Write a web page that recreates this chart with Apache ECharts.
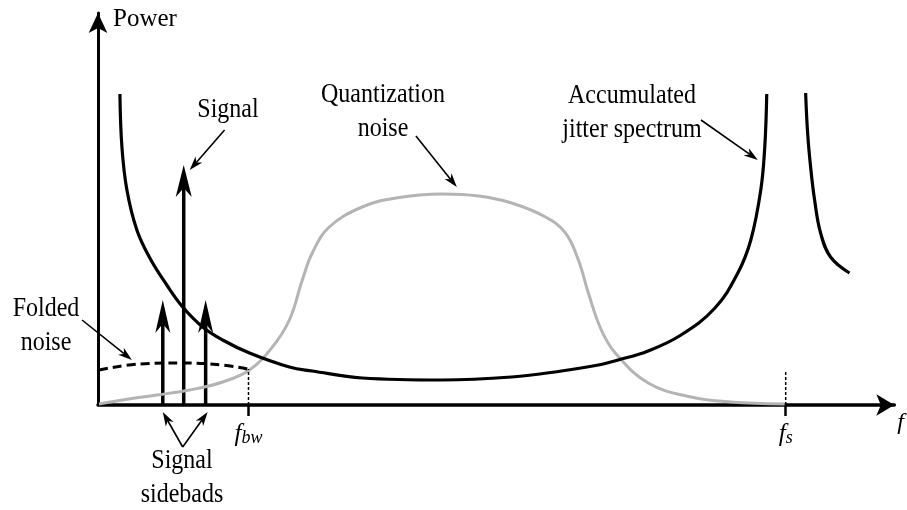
<!DOCTYPE html>
<html>
<head>
<meta charset="utf-8">
<script src="https://cdn.jsdelivr.net/npm/echarts@6/dist/echarts.min.js"></script>
<style>
  html, body { margin: 0; padding: 0; background: #fff; }
  #main { width: 907px; height: 510px; }
</style>
</head>
<body>
<div id="main"></div>
<script>
// frequency axis positions of the two marked frequencies
var fbwPos = 151;
var fsPos = 690;

// accumulated jitter spectrum (main bowl) and the tail after fs
var jitterMain = [[22,311],[24,258],[29,215],[39,175],[52,147],[69,120],[85,98],[105,78],[125,65],
  [152,52],[192,38],[215,34],[265,27],[345,25],[415,28],[465,34],[502,40],[522,45],[552,54],
  [585,70],[619,97],[642,132],[655,165],[665,215],[669,258],[671,311]];
var jitterTail = [[710,312],[712,272],[715,238],[719,205],[725,172],[735,148],[754,132]];

// quantization noise (grey)
var quantNoise = [[1,1],[25,5],[59,10],[92,15],[125,23],[152,35],[175,58],[192,85],[205,125],
  [215,152],[232,178],[265,198],[299,207],[345,211],[382,209],[415,202],[449,188],[469,172],
  [482,145],[492,112],[505,75],[519,52],[552,22],[595,8],[635,3],[689,1]];

// folded noise (dashed, inside the signal band)
var foldedNoise = [[1,35],[42,41],[85,42],[125,40],[150,36]];

// signal tone and its two sidebands: [frequency, power]
var signalArrows = [[86,240]];
var sidebandArrows = [[65,105],[108,105]];

// guide heights above the axis at fbw and fs
var fbwGuide = [[fbwPos,0],[fbwPos,36]];
var fsGuide = [[fsPos,0],[fsPos,35]];

// annotation pointers: [x1, y1, x2, y2]
var pointers = [[127,275,92,235],[319,269,360,218],[605,285,662,245],[-16,85,34,45],[85,-42,65,-7],[85,-42,110,-7]];

var serif = '"Liberation Serif", "DejaVu Serif", serif';

var myChart = echarts.init(document.getElementById('main'));

function arrowShape(api, p1, p2, headLen, headW, lineW) {
  var a = api.coord(p1), b = api.coord(p2);
  var dx = b[0] - a[0], dy = b[1] - a[1];
  var len = Math.sqrt(dx * dx + dy * dy);
  var ux = dx / len, uy = dy / len, nx = -uy, ny = ux;
  var bx = b[0] - ux * headLen, by = b[1] - uy * headLen;
  var cx = b[0] - ux * headLen * 0.72, cy = b[1] - uy * headLen * 0.72;
  return {
    type: 'group',
    children: [
      { type: 'line', shape: { x1: a[0], y1: a[1], x2: cx, y2: cy },
        style: { stroke: '#000', lineWidth: lineW } },
      { type: 'polygon',
        shape: { points: [[b[0], b[1]], [bx + nx * headW / 2, by + ny * headW / 2], [cx, cy], [bx - nx * headW / 2, by - ny * headW / 2]] },
        style: { fill: '#000' } }
    ]
  };
}

// annotation text, slightly stretched vertically like the original lettering
function note(x, y, text) {
  return { type: 'text', x: x, y: y, scaleY: 1.1,
    style: { text: text, font: '24px ' + serif, lineHeight: 31, fill: '#000', align: 'center', verticalAlign: 'middle' } };
}

var option = {
  animation: false,
  grid: { left: 98, top: 13, right: 10, bottom: 105 },
  xAxis: {
    type: 'value', min: 0, max: 799,
    name: 'f', nameLocation: 'end', nameGap: 3,
    nameTextStyle: { fontFamily: serif, fontStyle: 'italic', fontSize: 24, color: '#000',
      align: 'left', verticalAlign: 'top', padding: [6, 0, 0, 0] },
    axisLine: { show: true, symbol: ['none', 'arrow'], symbolSize: [16, 18],
      lineStyle: { color: '#000', width: 3.5 } },
    axisTick: { show: true, customValues: [fbwPos, fsPos], length: 11, lineStyle: { color: '#000', width: 2.5 } },
    axisLabel: {
      show: true, customValues: [fbwPos, fsPos], margin: 17,
      formatter: function (v) { return v === fbwPos ? '{f|f}{s|bw}' : '{f|f}{s|s}'; },
      rich: {
        f: { fontFamily: serif, fontStyle: 'italic', fontSize: 25, color: '#000', verticalAlign: 'top', lineHeight: 25 },
        s: { fontFamily: serif, fontStyle: 'italic', fontSize: 18, color: '#000', verticalAlign: 'bottom', lineHeight: 18, padding: [8, 0, 0, 0] }
      }
    },
    splitLine: { show: false }
  },
  yAxis: {
    type: 'value', min: 0, max: 392,
    name: 'Power', nameLocation: 'end', nameGap: -6,
    nameTextStyle: { fontFamily: serif, fontSize: 25, color: '#000', align: 'left', verticalAlign: 'middle', padding: [0, 0, 0, 15] },
    axisLine: { show: true, symbol: ['none', 'arrow'], symbolSize: [14, 20],
      lineStyle: { color: '#000', width: 3 } },
    axisTick: { show: false },
    axisLabel: { show: false },
    splitLine: { show: false }
  },
  graphic: [
    note(228, 110, 'Signal'),
    note(383, 112, 'Quantization\nnoise'),
    note(632, 113, 'Accumulated\njitter spectrum'),
    note(46, 326, 'Folded\nnoise'),
    note(182, 478, 'Signal\nsidebads')
  ],
  series: [
    { name: 'Quantization noise', type: 'line', data: quantNoise, smooth: 0.4, showSymbol: false,
      lineStyle: { color: '#b4b4b4', width: 3 } },
    { name: 'Jitter', type: 'line', data: jitterMain, smooth: 0.4, showSymbol: false,
      lineStyle: { color: '#000', width: 3.2 } },
    { name: 'Jitter tail', type: 'line', data: jitterTail, smooth: 0.4, showSymbol: false,
      lineStyle: { color: '#000', width: 3.2 } },
    { name: 'Folded noise', type: 'line', data: foldedNoise, smooth: 0.4, showSymbol: false,
      lineStyle: { color: '#000', width: 3, type: [9, 5] } },
    { name: 'fbw guide', type: 'line', data: fbwGuide, showSymbol: false,
      lineStyle: { color: '#000', width: 1.5, type: [3, 2] } },
    { name: 'fs guide', type: 'line', data: fsGuide, showSymbol: false,
      lineStyle: { color: '#000', width: 1.5, type: [3, 2] } },
    { name: 'Signal', type: 'custom', data: signalArrows,
      renderItem: function (params, api) {
        var x = api.value(0), h = api.value(1);
        return arrowShape(api, [x, 0], [x, h], 32, 16, 3.5);
      } },
    { name: 'Sidebands', type: 'custom', data: sidebandArrows,
      renderItem: function (params, api) {
        var x = api.value(0), h = api.value(1);
        return arrowShape(api, [x, 0], [x, h], 33, 15, 3.5);
      } },
    { name: 'Pointers', type: 'custom', data: pointers,
      renderItem: function (params, api) {
        return arrowShape(api, [api.value(0), api.value(1)], [api.value(2), api.value(3)], 14, 9, 1.6);
      } }
  ]
};

myChart.setOption(option);
</script>
</body>
</html>
